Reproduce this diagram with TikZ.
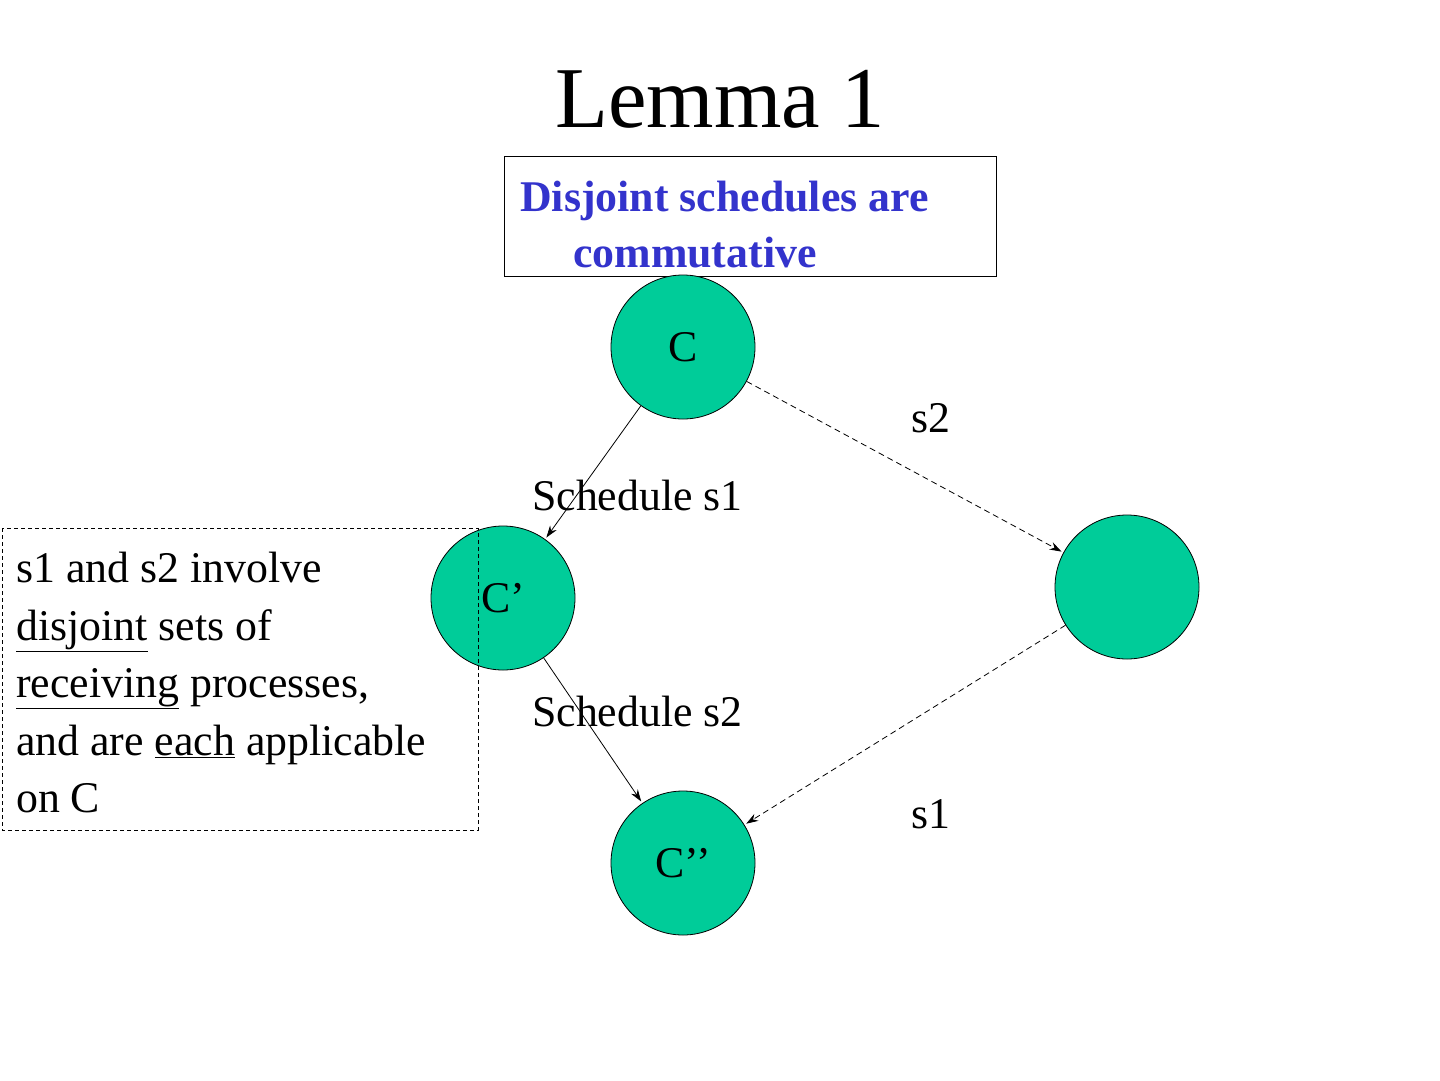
\documentclass[tikz,border=0pt]{standalone}
\usepackage{fontspec}
\setmainfont{Liberation Serif}
\usetikzlibrary{arrows.meta}
\begin{document}
\begin{tikzpicture}[x=1bp,y=-1bp,
  st/.style={circle,draw=black,line width=0.8bp,fill=stgreen,minimum size=144bp,inner sep=0pt,font=\fontsize{44}{50}\selectfont},
  lbl/.style={font=\fontsize{44}{50}\selectfont,inner sep=0pt,anchor=base west},
  arr/.style={-{Stealth[length=12bp,width=8bp]},line width=0.8bp,shorten >=2bp},
  dsh/.style={arr,dashed,dash pattern=on 6bp off 4bp}]
\definecolor{stgreen}{HTML}{00CC99}
\definecolor{tblue}{HTML}{3333CC}
\useasboundingbox (0,0) rectangle (1440,1080);
\node[font=\fontsize{87}{90}\selectfont,anchor=base] (title) at (720,127) {Lemma 1};
\draw[line width=1bp] (504,156) rectangle (996,276);
\node[lbl,font=\fontsize{44}{50}\selectfont\bfseries,text=tblue] (b1) at (520,211) {Disjoint schedules are};
\node[lbl,font=\fontsize{44}{50}\selectfont\bfseries,text=tblue] (b2) at (573,267) {commutative};
\node[st] (c) at (683,347) {C};
\node[st] (cp) at (503,598) {C’};
\node[st] (r) at (1127,587) {};
\node[st] (cpp) at (683,863) {C’’};
\draw[arr] (c) -- (cp);
\draw[arr] (cp) -- (cpp);
\draw[dsh] (c) -- (r);
\draw[dsh] (r) -- (cpp);
\node[lbl] (s2) at (911,432) {s2};
\node[lbl] (s1) at (911,828) {s1};
\node[lbl] (sc1) at (532,510) {Schedule s1};
\node[lbl] (sc2) at (532,726) {Schedule s2};
\draw[dashed,dash pattern=on 4bp off 3bp,line width=0.8bp] (2,528) rectangle (478,830);
\node[lbl] (t1) at (16,582) {s1 and s2 involve};
\node[lbl] (t2) at (16,640) {\underline{disjoint} sets of};
\node[lbl] (t3) at (16,697) {\underline{receiving} processes,};
\node[lbl] (t4) at (16,755) {and are \underline{each} applicable};
\node[lbl] (t5) at (16,812) {on C};
\end{tikzpicture}
\end{document}
